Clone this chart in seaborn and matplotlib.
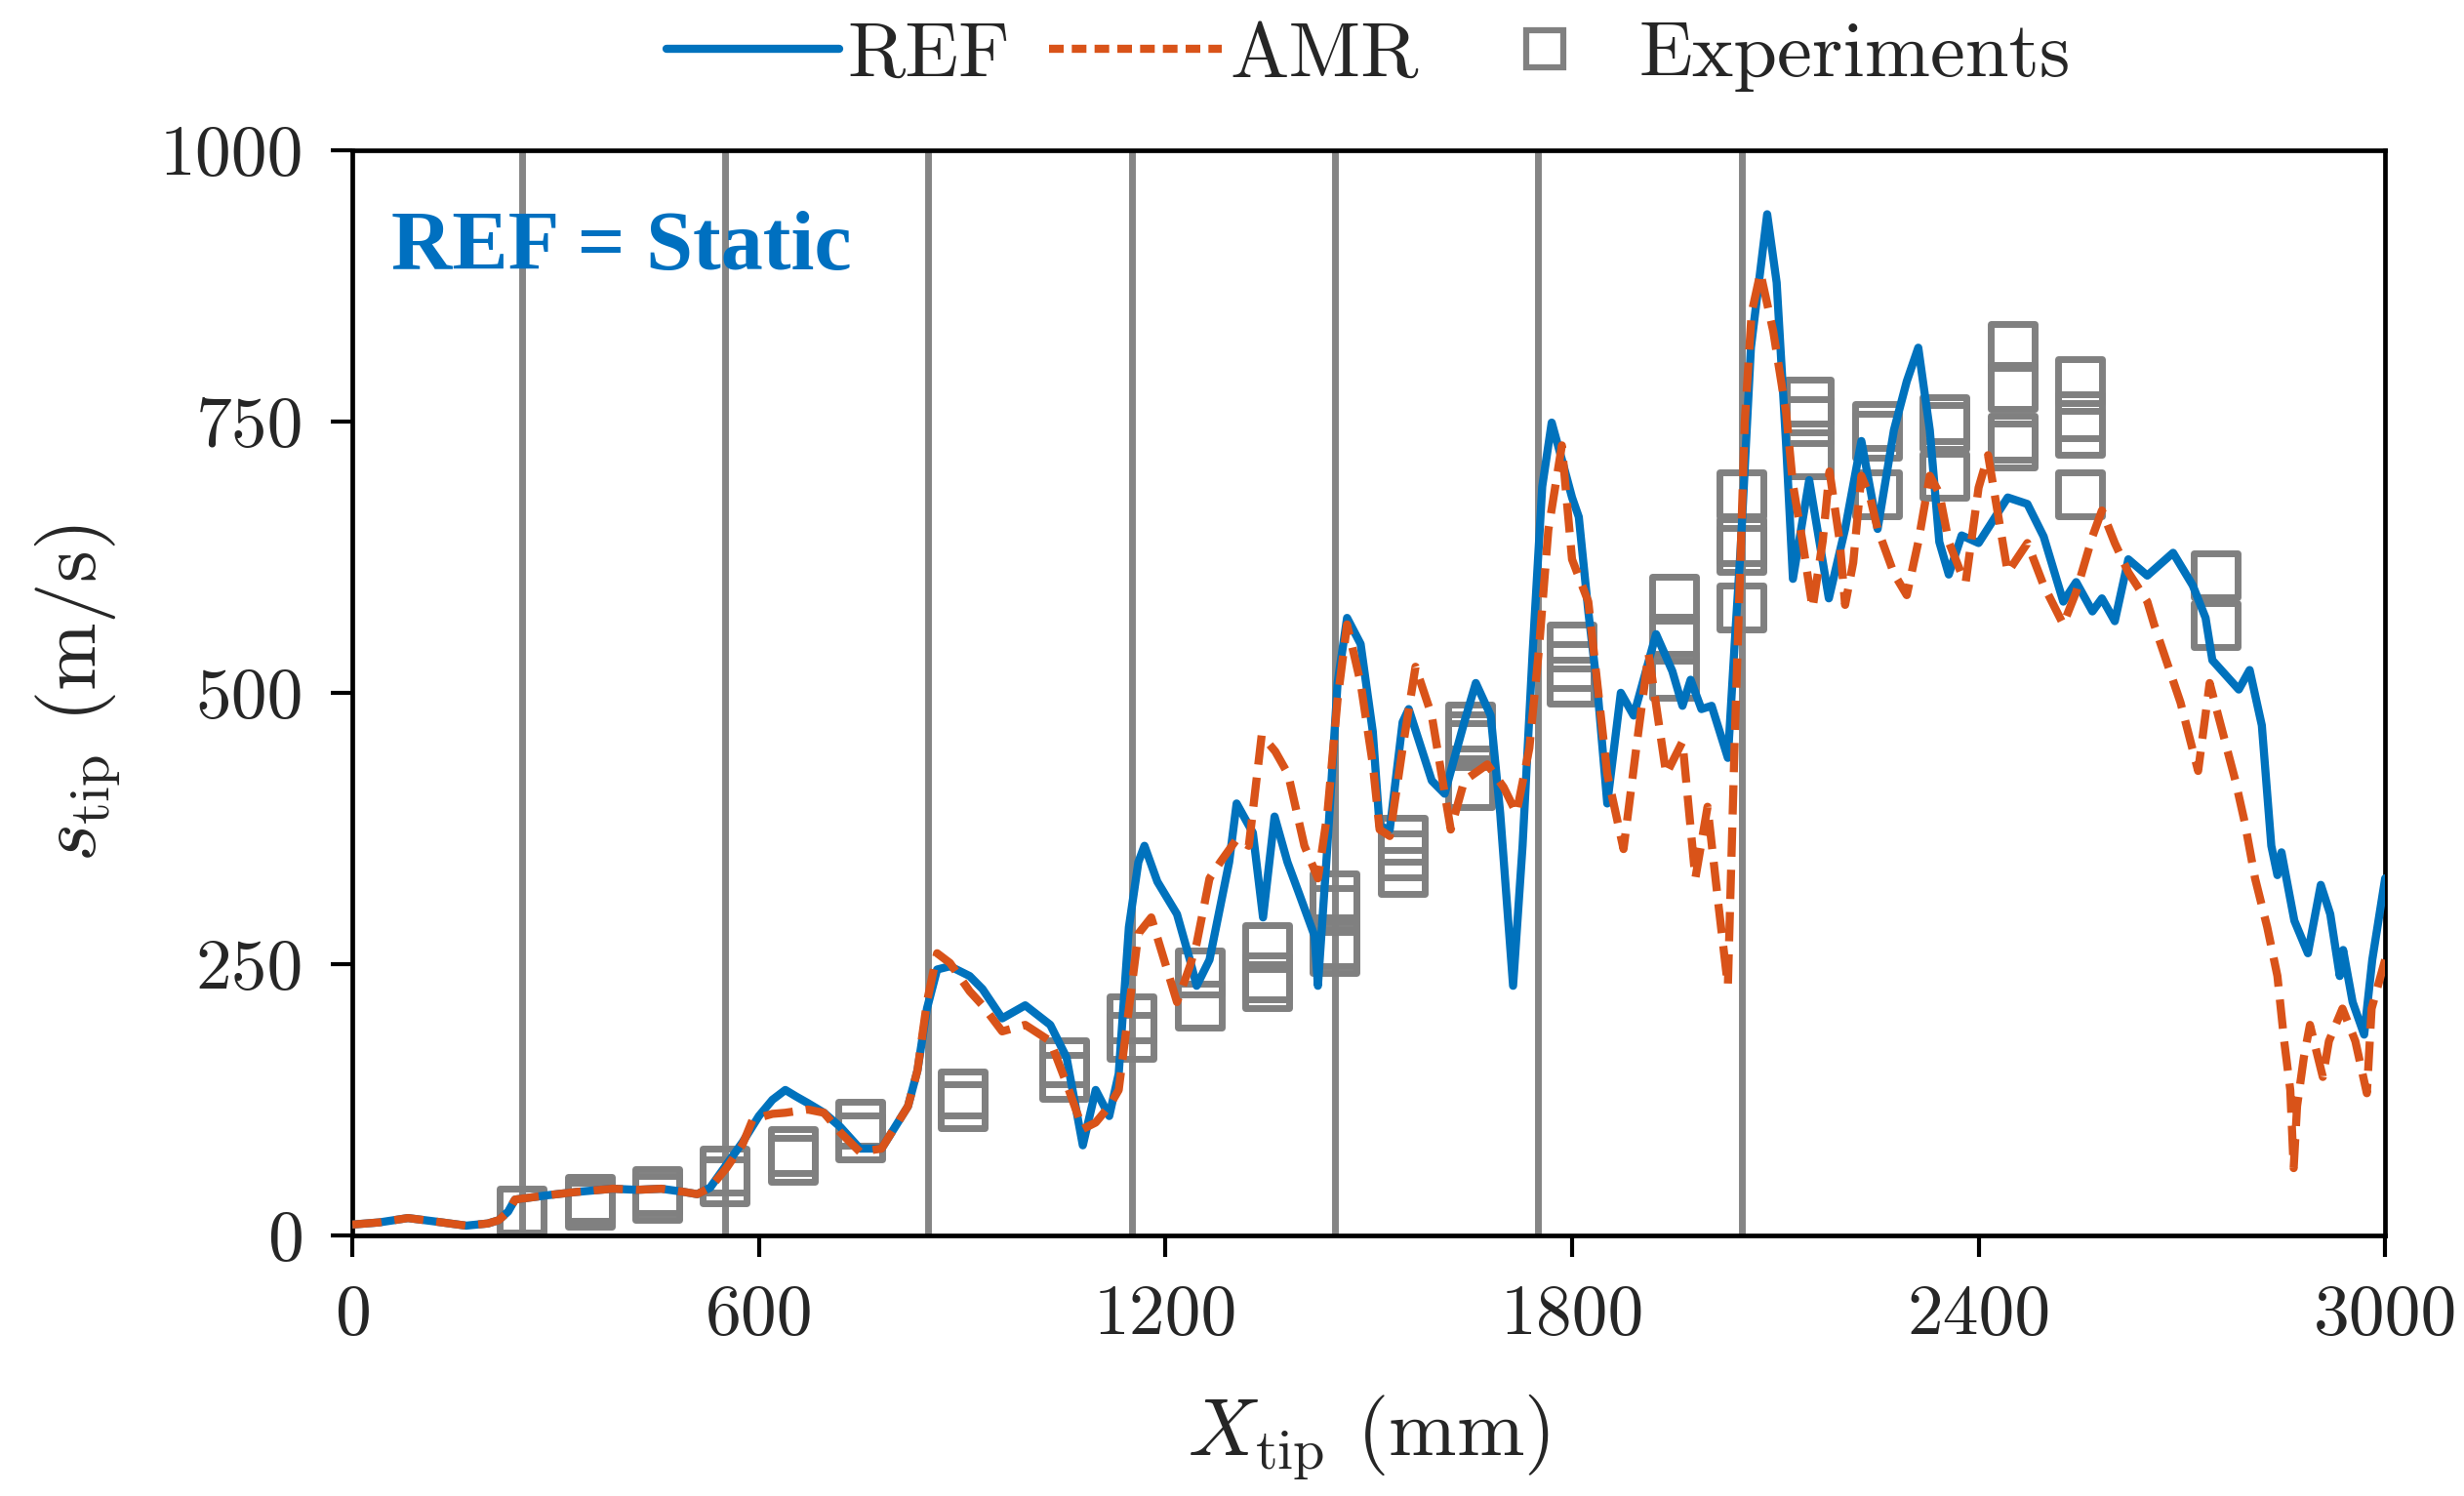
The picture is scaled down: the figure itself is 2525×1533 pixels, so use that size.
import matplotlib
matplotlib.use("Agg")
import matplotlib.pyplot as plt
from matplotlib.lines import Line2D
import seaborn as sns
import pandas as pd

# ---------------- data ----------------
ref_x = [0, 40, 82, 120, 168, 200, 216, 230, 240, 288, 330, 384, 420, 456, 490, 509, 528,
         552, 576, 600, 620, 639, 655, 672, 696, 720, 749, 781, 820, 834, 848, 863, 882,
         911, 930, 959, 993, 1030, 1054, 1078, 1097, 1117, 1131, 1146, 1160, 1169, 1188,
         1217, 1236, 1246, 1265, 1294, 1305, 1329, 1344, 1361, 1380, 1396, 1420, 1425,
         1439, 1454, 1468, 1488, 1506, 1516, 1531, 1550, 1559, 1593, 1612, 1641, 1658,
         1680, 1694, 1713, 1727, 1742, 1756, 1770, 1785, 1800, 1810, 1824, 1838, 1852,
         1872, 1891, 1924, 1948, 1963, 1975, 1991, 2006, 2030, 2040, 2049, 2064, 2088,
         2102, 2116, 2126, 2150, 2179, 2203, 2227, 2251, 2275, 2294, 2311, 2328, 2342,
         2356, 2375, 2400, 2443, 2472, 2496, 2525, 2544, 2568, 2582, 2601, 2621, 2649,
         2687, 2716, 2735, 2745, 2784, 2800, 2818, 2832, 2841, 2847, 2866, 2886, 2905,
         2919, 2933, 2938, 2952, 2969, 2981, 3000]
ref_y = [10, 12, 16, 13, 9, 11, 14, 22, 33, 37, 40, 43, 42, 43, 40, 38, 44,
         65, 86, 110, 125, 134, 128, 122, 113, 100, 80, 80, 119, 152, 209, 245, 248,
         239, 227, 200, 212, 194, 164, 83, 134, 110, 149, 284, 344, 359, 326,
         296, 254, 230, 254, 344, 398, 371, 293, 386, 344, 317, 276, 230,
         359, 509, 569, 545, 464, 377, 374, 473, 485, 419, 407, 473, 509,
         479, 389, 230, 359, 539, 690, 749, 715, 680, 662, 575, 500, 398,
         500, 479, 554, 520, 488, 512, 485, 488, 440, 545, 635, 818, 941,
         878, 728, 605, 696, 587, 651, 732, 651, 742, 787, 818, 742, 639,
         609, 645, 638, 680, 674, 644, 584, 602, 575, 587, 566, 623, 608,
         629, 599, 569, 530, 503, 521, 470, 359, 332, 353, 290, 260, 323,
         296, 239, 263, 215, 185, 254, 329]

amr_x = [0, 40, 82, 120, 168, 200, 216, 230, 240, 288, 330, 384, 420, 456, 490, 509, 528,
         552, 576, 591, 620, 639, 672, 696, 720, 749, 781, 820, 834, 848, 863, 882,
         911, 930, 959, 993, 1030, 1054, 1078, 1097, 1117, 1131, 1146, 1160, 1179, 1198,
         1217, 1236, 1246, 1265, 1281, 1305, 1323, 1342, 1362, 1381, 1405, 1425, 1439,
         1454, 1468, 1488, 1506, 1516, 1531, 1550, 1569, 1593, 1621, 1641, 1675, 1699,
         1718, 1737, 1751, 1765, 1785, 1800, 1824, 1852, 1876, 1896, 1913, 1939, 1963,
         1982, 2000, 2016, 2030, 2040, 2055, 2065, 2078, 2097, 2116, 2126, 2140, 2155,
         2170, 2180, 2195, 2203, 2215, 2227, 2240, 2251, 2275, 2294, 2311, 2328, 2342,
         2356, 2375, 2381, 2400, 2414, 2443, 2472, 2496, 2525, 2544, 2568, 2582, 2601,
         2621, 2649, 2659, 2698, 2724, 2741, 2760, 2779, 2793, 2808, 2826, 2841, 2851,
         2860, 2865, 2870, 2880, 2889, 2908, 2917, 2937, 2956, 2973, 2980, 3000]
amr_y = [10, 12, 16, 13, 9, 11, 14, 22, 33, 37, 40, 43, 42, 43, 40, 38, 44,
         62, 84, 107, 112, 113, 116, 113, 95, 77, 80, 119, 152, 215, 260, 251,
         225, 212, 188, 194, 179, 140, 98, 104, 119, 134, 209, 278, 293, 254,
         215, 248, 269, 329, 344, 365, 359, 461, 446, 425, 359, 329, 389,
         494, 563, 509, 434, 374, 368, 449, 524, 479, 374, 419, 434, 413,
         389, 449, 539, 650, 728, 623, 584, 425, 356, 455, 536, 425, 455,
         329, 395, 305, 230, 455, 750, 850, 887, 833, 758, 692, 640, 578,
         640, 704, 640, 581, 620, 700, 680, 651, 610, 590, 639, 700, 684,
         639, 609, 602, 689, 719, 611, 638, 599, 563, 593, 644, 668, 638,
         611, 584, 563, 491, 428, 509, 464, 419, 380, 329, 284, 239, 179,
         134, 62, 119, 164, 194, 146, 179, 209, 179, 131, 209, 254]

exp_x = [250,
         350, 350,
         450, 450,
         550, 550,
         650, 650,
         750, 750,
         900, 900,
         1050, 1050,
         1150, 1150,
         1250, 1250,
         1350, 1350, 1350,
         1450, 1450, 1450, 1450,
         1550, 1550, 1550,
         1650, 1650, 1650, 1650,
         1800, 1800, 1800,
         1950, 1950, 1950,
         2050, 2050, 2050, 2050,
         2150, 2150, 2150,
         2250, 2250, 2250,
         2350, 2350, 2350,
         2450, 2450, 2450, 2450,
         2550, 2550, 2550, 2550,
         2750, 2750]
exp_y = [23,
         34, 28,
         41, 35,
         60, 50,
         78, 70,
         103, 90,
         131, 119,
         160, 146,
         200, 183,
         242, 212,
         266, 238, 230,
         313, 300, 268, 262,
         365, 350, 335,
         469, 460, 452, 415,
         543, 525, 510,
         587, 550, 516,
         683, 640, 632, 579,
         768, 750, 720,
         746, 737, 683,
         752, 745, 700,
         820, 782, 735, 728,
         787, 755, 740, 683,
         608, 562]

stage_x = [250, 550, 850, 1150, 1450, 1750, 2050]

x_ticks = [0, 600, 1200, 1800, 2400, 3000]
y_ticks = [0, 250, 500, 750, 1000]
legend_labels = ["REF", "AMR", "Experiments"]
annotation = "REF = Static"

# ---------------- style ----------------
sns.set_style("ticks")
plt.rcParams["font.family"] = ["cmr10", "DejaVu Serif"]
plt.rcParams["mathtext.fontset"] = "cm"
plt.rcParams["axes.formatter.use_mathtext"] = True
plt.rcParams["axes.unicode_minus"] = False

BLUE = "#0072BD"
ORANGE = "#D95319"
GRAY = "#808080"
LW = 6.0

fig = plt.figure(figsize=(25.25, 15.33), dpi=100)
ax = fig.add_axes([0.1430, 0.1742, 0.8250, 0.7254])

for xv in stage_x:
    ax.axvline(xv, color="#858585", lw=5, zorder=1)

exp_df = pd.DataFrame({"x": exp_x, "y": exp_y})
sns.scatterplot(data=exp_df, x="x", y="y", marker="s", s=1050, ax=ax,
                color=GRAY, edgecolor=GRAY, linewidth=5, zorder=2, legend=False)
ax.collections[-1].set_facecolor("none")
ax.collections[-1].set_edgecolor(GRAY)

ref_df = pd.DataFrame({"x": ref_x, "y": ref_y})
amr_df = pd.DataFrame({"x": amr_x, "y": amr_y})
sns.lineplot(data=ref_df, x="x", y="y", ax=ax, color=BLUE, linewidth=LW,
             estimator=None, sort=False, zorder=3, legend=False)
sns.lineplot(data=amr_df, x="x", y="y", ax=ax, color=ORANGE, linewidth=LW,
             linestyle="--", dashes=False, estimator=None, sort=False, zorder=4,
             legend=False)
ax.lines[-1].set_linestyle((0, (3.6, 1.6)))

ax.set_xlim(0, 3000)
ax.set_ylim(0, 1000)
ax.set_xticks(x_ticks)
ax.set_yticks(y_ticks)
ax.set_xticklabels([str(t) for t in x_ticks])
ax.set_yticklabels([str(t) for t in y_ticks])
ax.tick_params(axis="both", labelsize=53, length=16, width=3, pad=20, color="black")
for sp in ax.spines.values():
    sp.set_visible(True)
    sp.set_linewidth(3.4)
    sp.set_color("black")

ax.set_xlabel(r"$X_{\rm tip}$ (mm)", fontsize=60, va="center")
ax.xaxis.set_label_coords(0.5, -0.186)
ax.set_ylabel(r"$s_{\rm tip}$ (m/s)", fontsize=60, va="center", ha="center")
ax.yaxis.set_label_coords(-0.135, 0.50)

ax.text(0.019, 0.909, annotation, transform=ax.transAxes, fontsize=62,
        fontweight="bold", color="#0070C0", family=["Liberation Serif", "DejaVu Serif"],
        ha="left", va="center")

handles = [
    Line2D([], [], color=BLUE, lw=LW),
    Line2D([], [], color=ORANGE, lw=LW, linestyle=(0, (1.8, 1.0))),
    Line2D([], [], color=GRAY, marker="s", markersize=27, markerfacecolor="none",
           markeredgewidth=4.5, linestyle="none"),
]
ax.legend(handles, legend_labels, loc="center", bbox_to_anchor=(0.5, 1.086),
          ncol=3, frameon=False, fontsize=58, handlelength=2.2, handletextpad=0.1,
          columnspacing=0.5, borderaxespad=0)

fig.savefig("out.png", dpi=100)
